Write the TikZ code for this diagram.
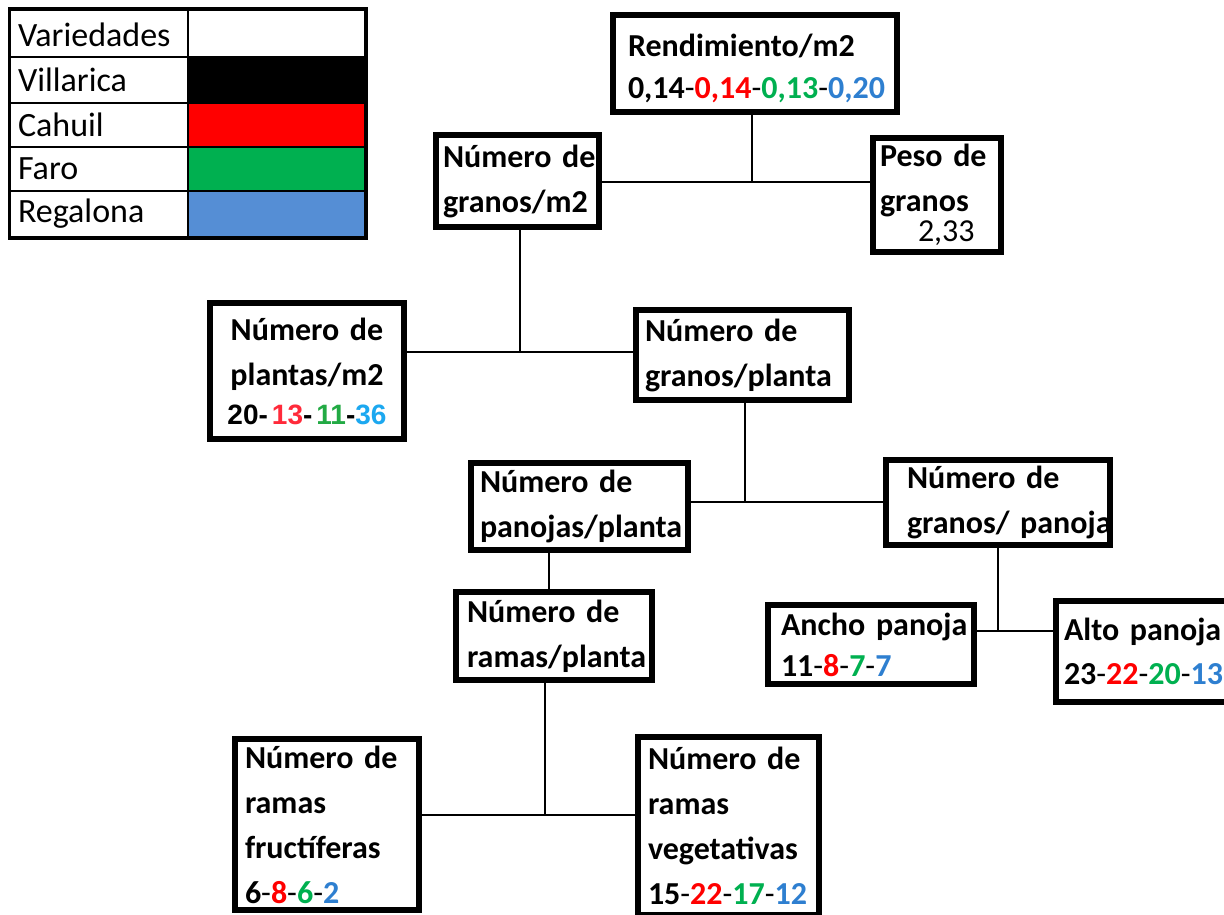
\documentclass[tikz,border=0pt]{standalone}
\usepackage{fontspec}
\setmainfont{Carlito}
\newfontfamily\arialf{Liberation Sans}
\definecolor{vred}{HTML}{FF0000}
\definecolor{vgreen}{HTML}{00B050}
\definecolor{vblue}{HTML}{2E7FD0}
\definecolor{fblue}{HTML}{558ED5}
\definecolor{lblue}{HTML}{1CA8F0}
\definecolor{lred}{HTML}{FF2A3A}
\definecolor{lgreen}{HTML}{22AA44}
\newcommand\hy{{\mdseries-}}
\begin{document}
\begin{tikzpicture}[x=1pt,y=-1pt,
  box/.style={draw, line width=6pt, fill=white, inner ysep=0pt, align=left,
    font=\bfseries\fontsize{32}{45}\selectfont},
  conn/.style={line width=2pt},
  lcell/.style={draw, line width=2pt, inner ysep=0pt, inner xsep=8pt, minimum width=178pt,
    text width=162pt, align=left, font=\fontsize{34}{40}\selectfont},
  scell/.style={draw, line width=2pt, inner sep=0pt, minimum width=177pt}]
\useasboundingbox (0,0) rectangle (1224,915);
% legend
\node[lcell, minimum height=47pt] (l0) at (99,33.5) {\rule{0pt}{27pt}Variedades};
\node[lcell, minimum height=46pt] (l1) at (99,80) {Villarica};
\node[lcell, minimum height=44pt] (l2) at (99,125) {Cahuil};
\node[lcell, minimum height=44pt] (l3) at (99,169) {Faro};
\node[lcell, minimum height=46pt] (l4) at (99,214) {Regalona};
\node[scell, minimum height=47pt, fill=white] (s0) at (276.5,33.5) {};
\node[scell, minimum height=46pt, fill=black] (s1) at (276.5,80) {};
\node[scell, minimum height=44pt, fill=vred] (s2) at (276.5,125) {};
\node[scell, minimum height=44pt, fill=vgreen] (s3) at (276.5,169) {};
\node[scell, minimum height=46pt, fill=fblue] (s4) at (276.5,214) {};
\draw[line width=3pt] (l0.north west) rectangle (s4.south east);
% boxes
\node[box, minimum width=284pt, minimum height=97pt, inner xsep=15pt, text width=254pt] (rend) at (755,63.5)
  {\rule{0pt}{32pt}Rendimiento/m2\\[-3pt]\mbox{0,14\hy\textcolor{vred}{0,14}\hy\textcolor{vgreen}{0,13}\hy\textcolor{vblue}{0,20}}};
\node[box, minimum width=128pt, minimum height=114pt, inner xsep=7pt, text width=114pt] (peso) at (937,195)
  {\mbox{Peso de}\\granos\\[-15pt]\hspace*{38pt}{\mdseries 2,33}};
\node[box, minimum width=163pt, minimum height=92pt, inner xsep=7pt, text width=149pt] (gm2) at (517.5,181)
  {\mbox{Número de}\\granos/m2};
\node[box, minimum width=194pt, minimum height=136pt, inner xsep=4pt, text width=186pt, align=center] (plantas) at (307,371)
  {\mbox{Número de}\\plantas/m2\\[-6pt]{\arialf\fontsize{28}{30}\selectfont\mbox{20-\hspace{4pt}\textcolor{lred}{13}-\hspace{4pt}\textcolor{lgreen}{11}-\textcolor{lblue}{36}}}};
\node[box, minimum width=213pt, minimum height=90pt, inner xsep=9pt, text width=195pt] (gpl) at (742.5,355)
  {\mbox{Número de}\\granos/planta};
\node[box, minimum width=217pt, minimum height=87pt, inner xsep=9pt, text width=199pt] (panojas) at (579.5,506.5)
  {\mbox{Número de}\\panojas/planta};
\node[box, minimum width=224pt, minimum height=85pt, inner xsep=21pt, text width=182pt] (gpan) at (998,502.5)
  {\mbox{Número de}\\\mbox{granos/ panoja}};
\node[box, minimum width=196pt, minimum height=88pt, inner xsep=11pt, text width=174pt] (ramas) at (554,636)
  {\mbox{Número de}\\ramas/planta};
\node[box, minimum width=206pt, minimum height=79pt, inner xsep=13pt, text width=180pt] (ancho) at (871,644.5)
  {\mbox{Ancho panoja}\\[-4pt]\mbox{11\hy\textcolor{vred}{8}\hy\textcolor{vgreen}{7}\hy\textcolor{vblue}{7}}};
\node[box, minimum width=177pt, minimum height=101pt, inner xsep=8pt, text width=161pt] (alto) at (1144.5,651.5)
  {\mbox{Alto panoja}\\[-1pt]\mbox{23\hy\textcolor{vred}{22}\hy\textcolor{vgreen}{20}\hy\textcolor{vblue}{13}}};
\node[box, minimum width=184pt, minimum height=171pt, inner xsep=10pt, text width=164pt] (fruct) at (327,824.5)
  {\mbox{Número de}\\ramas\\fructíferas\\\mbox{6\hy\textcolor{vred}{8}\hy\textcolor{vgreen}{6}\hy\textcolor{vblue}{2}}};
\node[box, minimum width=181pt, minimum height=178pt, inner xsep=10pt, text width=161pt] (veget) at (728.5,826)
  {\mbox{Número de}\\ramas\\vegetativas\\\mbox{15\hy\textcolor{vred}{22}\hy\textcolor{vgreen}{17}\hy\textcolor{vblue}{12}}};
% junctions
\coordinate (j1) at (752,182);
\coordinate (j2) at (520,352);
\coordinate (j3) at (745,502);
\coordinate (j4) at (545,815);
\coordinate (j5) at (998,631);
\coordinate (j6) at (549,571);
% connectors
\draw[conn] (rend.south -| j1) -- (j1);
\draw[conn] (gm2.east |- j1) -- (peso.west |- j1);
\draw[conn] (gm2.south -| j2) -- (j2);
\draw[conn] (plantas.east |- j2) -- (gpl.west |- j2);
\draw[conn] (gpl.south -| j3) -- (j3);
\draw[conn] (panojas.east |- j3) -- (gpan.west |- j3);
\draw[conn] (panojas.south -| j6) -- (ramas.north -| j6);
\draw[conn] (ramas.south -| j4) -- (j4);
\draw[conn] (fruct.east |- j4) -- (veget.west |- j4);
\draw[conn] (gpan.south -| j5) -- (j5);
\draw[conn] (ancho.east |- j5) -- (alto.west |- j5);
\end{tikzpicture}
\end{document}
